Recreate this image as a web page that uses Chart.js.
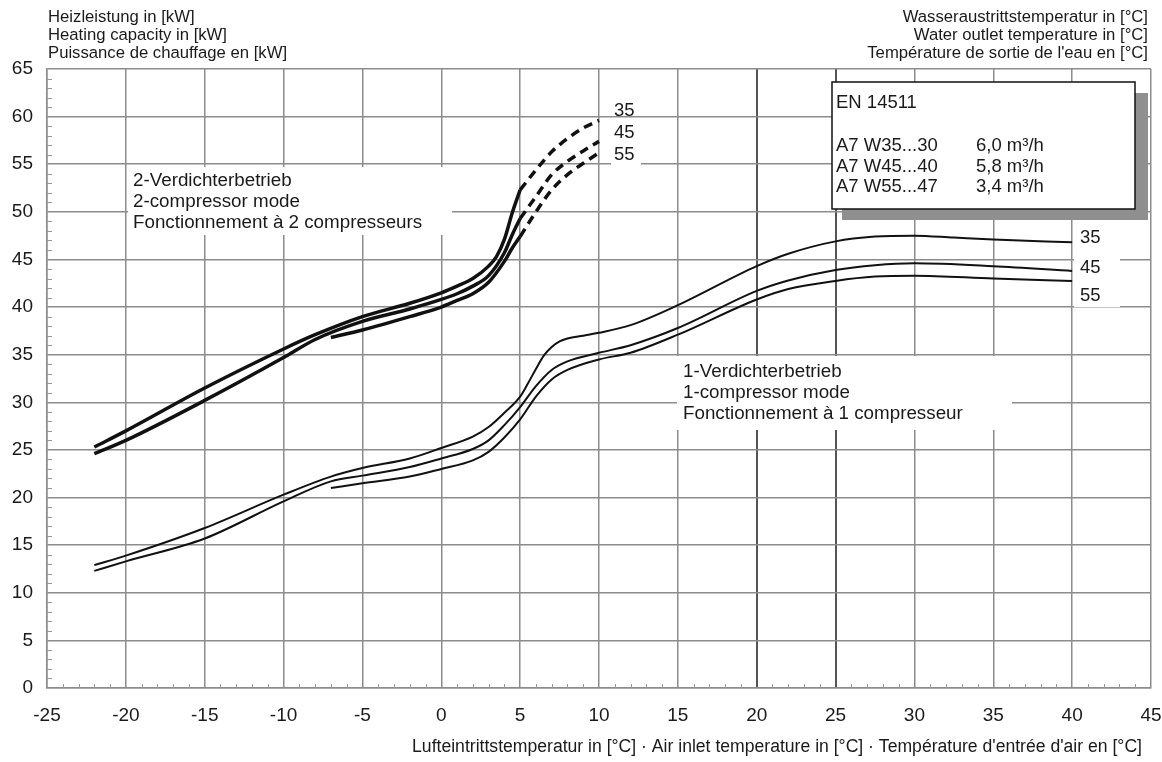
<!DOCTYPE html>
<html>
<head>
<meta charset="utf-8">
<script src="https://cdn.jsdelivr.net/npm/chart.js@4"></script>
<style>
body { margin: 0; background: #fff; }
#wrap { width: 1162px; height: 762px; }
</style>
</head>
<body>
<div id="wrap"><canvas id="heatChart" width="1162" height="762"></canvas></div>
<script>
// air inlet temperature [°C] / heating capacity [kW]
const two35X = [-22, -20, -15, -10, -8, -5, -2, 0, 1, 2, 3, 3.5, 4, 4.5, 5];
const two35Y = [25.3, 27.0, 31.5, 35.6, 37.1, 39.0, 40.4, 41.5, 42.2, 43.0, 44.3, 45.3, 47.1, 49.9, 52.3];
const two45X = [-22, -20, -15, -10, -8, -5, -2, 0, 1, 2, 3, 4, 4.5, 5];
const two45Y = [24.6, 26.0, 30.2, 34.7, 36.6, 38.5, 39.8, 40.8, 41.4, 42.2, 43.3, 45.7, 47.6, 49.3];
const two55X = [-7, -5, -2, 0, 1, 2, 3, 4, 4.5, 5];
const two55Y = [36.8, 37.6, 39.0, 40.0, 40.7, 41.4, 42.6, 44.8, 46.2, 47.4];

// dashed continuation 5..10 °C
const dashX = [5, 6, 7, 8, 9, 10];
const dash35Y = [52.3, 54.4, 56.3, 57.7, 58.8, 59.6];
const dash45Y = [49.3, 51.6, 53.9, 55.3, 56.4, 57.4];
const dash55Y = [47.4, 50.0, 52.3, 53.9, 55.1, 56.2];

const one35X = [-22, -20, -15, -10, -7, -5, -2, 0, 2, 3, 4, 5, 5.5, 6, 6.5, 7, 7.5, 8, 9, 10, 12, 15, 20, 22, 25, 27.5, 30, 32.5, 35, 40];
const one35Y = [12.9, 13.9, 16.8, 20.3, 22.2, 23.1, 24.1, 25.2, 26.4, 27.4, 28.9, 30.6, 32.0, 33.5, 34.9, 35.8, 36.4, 36.7, 37.0, 37.3, 38.1, 40.2, 44.3, 45.6, 46.9, 47.4, 47.5, 47.3, 47.1, 46.8];
const one45X = [-22, -20, -15, -10, -7, -5, -2, 0, 2, 3, 4, 5, 6, 7, 8, 10, 12, 15, 20, 22, 25, 27.5, 30, 35, 40];
const one45Y = [12.3, 13.3, 15.7, 19.6, 21.7, 22.3, 23.2, 24.1, 25.1, 26.0, 27.6, 29.5, 31.7, 33.4, 34.3, 35.2, 36.0, 37.8, 41.7, 42.8, 43.9, 44.4, 44.6, 44.3, 43.8];
const one55X = [-7, -5, -2, 0, 2, 3, 4, 5, 6, 7, 8, 10, 12, 15, 20, 22, 25, 27.5, 30, 35, 40];
const one55Y = [21.0, 21.5, 22.2, 23.0, 23.9, 24.8, 26.3, 28.2, 30.6, 32.4, 33.4, 34.5, 35.2, 37.1, 40.8, 41.9, 42.75, 43.2, 43.3, 43.0, 42.75];

const curveLabels = ['35', '45', '55'];
const normLines = [
    ['A7 W35...30', '6,0 m³/h'],
    ['A7 W45...40', '5,8 m³/h'],
    ['A7 W55...47', '3,4 m³/h']
];

const FONT = '"Liberation Sans", Arial, sans-serif';

function pts(xs, ys) {
    return xs.map((x, i) => ({ x: x, y: ys[i] }));
}

function curve(xs, ys, width, dashed) {
    return {
        data: pts(xs, ys),
        borderColor: '#111',
        borderWidth: width,
        borderDash: dashed ? [9, 6] : [],
        pointRadius: 0,
        fill: false,
        cubicInterpolationMode: 'monotone'
    };
}

function darkLine(c) {
    return c.tick && (c.tick.value === 20 || c.tick.value === 25);
}

const decorations = {
    id: 'decorations',
    beforeDatasetsDraw(chart) {
        const ctx = chart.ctx;
        const xs = chart.scales.x, ys = chart.scales.y;
        ctx.save();
        // small unit ticks inside the frame
        ctx.strokeStyle = '#999';
        ctx.lineWidth = 1;
        for (let v = ys.min; v <= ys.max; v++) {
            if (v % 5 === 0) continue;
            const py = Math.round(ys.getPixelForValue(v)) + 0.5;
            ctx.beginPath();
            ctx.moveTo(xs.left, py);
            ctx.lineTo(xs.left + 5, py);
            ctx.stroke();
        }
        for (let v = xs.min; v <= xs.max; v++) {
            if (v % 5 === 0) continue;
            const px = Math.round(xs.getPixelForValue(v)) + 0.5;
            ctx.beginPath();
            ctx.moveTo(px, ys.bottom);
            ctx.lineTo(px, ys.bottom - 4);
            ctx.stroke();
        }

        // white boxes behind notes
        ctx.fillStyle = '#fff';
        ctx.fillRect(128, 167, 324, 68);
        ctx.fillRect(677, 356, 335, 74);
        ctx.fillRect(611, 124, 30, 44);
        ctx.fillRect(1074, 244, 46, 63);

        ctx.fillStyle = '#1a1a1a';
        ctx.textBaseline = 'middle';
        ctx.textAlign = 'left';
        ctx.font = '18.8px ' + FONT;
        ctx.fillText('2-Verdichterbetrieb', 133, 181);
        ctx.fillText('2-compressor mode', 133, 202);
        ctx.fillText('Fonctionnement à 2 compresseurs', 133, 223);
        ctx.fillText('1-Verdichterbetrieb', 683, 372);
        ctx.fillText('1-compressor mode', 683, 393);
        ctx.fillText('Fonctionnement à 1 compresseur', 683, 414);

        ctx.font = '18.5px ' + FONT;
        [111, 133, 155].forEach((y, i) => ctx.fillText(curveLabels[i], 614, y));
        [238, 268, 296].forEach((y, i) => ctx.fillText(curveLabels[i], 1080, y));
        ctx.restore();
    },
    afterDraw(chart) {
        const ctx = chart.ctx;
        ctx.save();
        ctx.fillStyle = '#1a1a1a';
        ctx.textBaseline = 'middle';
        ctx.font = '16.7px ' + FONT;
        ctx.textAlign = 'left';
        ctx.fillText('Heizleistung in [kW]', 48, 17);
        ctx.fillText('Heating capacity in [kW]', 48, 35);
        ctx.fillText('Puissance de chauffage en [kW]', 48, 53);
        ctx.textAlign = 'right';
        ctx.fillText('Wasseraustrittstemperatur in [°C]', 1148, 17);
        ctx.fillText('Water outlet temperature in [°C]', 1148, 35);
        ctx.fillText("Température de sortie de l'eau en [°C]", 1148, 53);
        ctx.font = '17.6px ' + FONT;
        ctx.fillText("Lufteintrittstemperatur in [°C] · Air inlet temperature in [°C] · Température d'entrée d'air en [°C]", 1142, 747);

        // EN 14511 box
        ctx.fillStyle = '#8f8f8f';
        ctx.fillRect(842, 93, 306, 127);
        ctx.fillStyle = '#fff';
        ctx.fillRect(832, 82, 303, 127);
        ctx.strokeStyle = '#111';
        ctx.lineWidth = 1.5;
        ctx.strokeRect(832, 82, 303, 127);
        ctx.fillStyle = '#1a1a1a';
        ctx.textAlign = 'left';
        ctx.font = '18.5px ' + FONT;
        ctx.fillText('EN 14511', 836, 103);
        normLines.forEach((row, i) => {
            ctx.fillText(row[0], 836, 146 + i * 20.5);
            ctx.fillText(row[1], 976, 146 + i * 20.5);
        });
        ctx.restore();
    }
};

new Chart(document.getElementById('heatChart'), {
    type: 'line',
    data: {
        datasets: [
            curve(two35X, two35Y, 3.5, false),
            curve(dashX, dash35Y, 3.5, true),
            curve(two45X, two45Y, 3.5, false),
            curve(dashX, dash45Y, 3.5, true),
            curve(two55X, two55Y, 3.5, false),
            curve(dashX, dash55Y, 3.5, true),
            curve(one35X, one35Y, 2, false),
            curve(one45X, one45Y, 2, false),
            curve(one55X, one55Y, 2, false)
        ]
    },
    options: {
        responsive: false,
        animation: false,
        layout: { padding: { top: 69, right: 11, left: 0, bottom: 0 } },
        plugins: { legend: { display: false }, tooltip: { enabled: false } },
        scales: {
            x: {
                type: 'linear',
                min: -25,
                max: 45,
                afterFit: s => { s.height = 74; s.paddingLeft = 0; s.paddingRight = 0; },
                ticks: { stepSize: 5, padding: 16, color: '#1a1a1a', font: { family: FONT, size: 19 } },
                grid: {
                    drawTicks: false,
                    color: c => darkLine(c) ? '#555' : '#8c8c8c',
                    lineWidth: c => darkLine(c) ? 2 : 1.5
                },
                border: { color: '#8c8c8c', width: 1.5 }
            },
            y: {
                min: 0,
                max: 65,
                afterFit: s => { s.width = 47; s.paddingTop = 0; s.paddingBottom = 0; },
                ticks: { stepSize: 5, padding: 14, color: '#1a1a1a', font: { family: FONT, size: 19 } },
                grid: { drawTicks: false, color: '#8c8c8c', lineWidth: 1.5 },
                border: { color: '#8c8c8c', width: 1.5 }
            }
        }
    },
    plugins: [decorations]
});
</script>
</body>
</html>
